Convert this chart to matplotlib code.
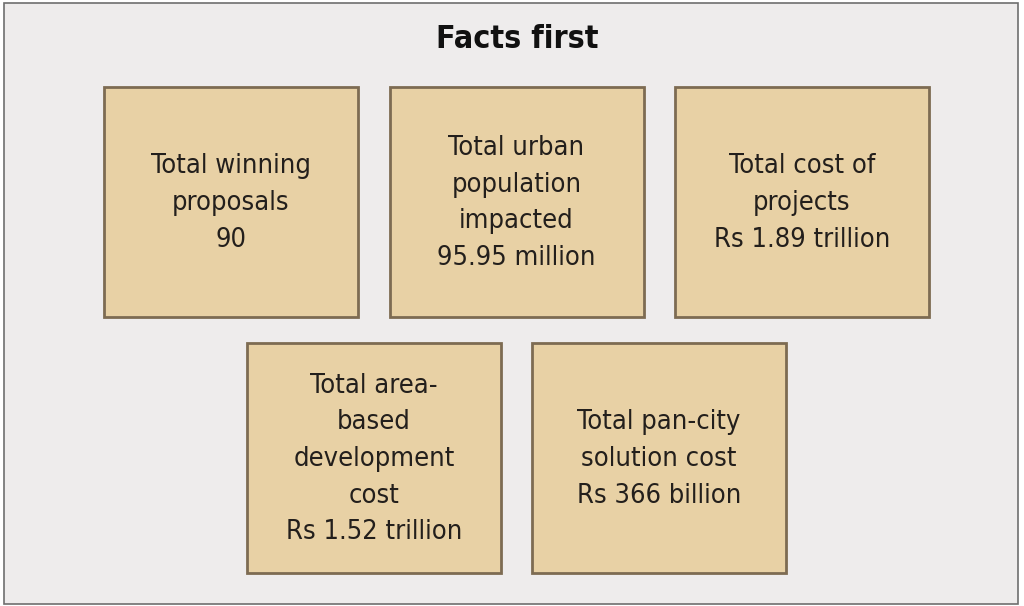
import matplotlib.pyplot as plt
from matplotlib.patches import Rectangle

# conteúdo do infográfico
titulo = "Facts first"
linha1 = [
    "Total winning\nproposals\n90",
    "Total urban\npopulation\nimpacted\n95.95 million",
    "Total cost of\nprojects\nRs 1.89 trillion",
]
linha2 = [
    "Total area-\nbased\ndevelopment\ncost\nRs 1.52 trillion",
    "Total pan-city\nsolution cost\nRs 366 billion",
]

fundo = "#eeecec"
caixa = "#e8d1a5"
borda = "#7d6b52"

fig = plt.figure(figsize=(10.24, 6.06), dpi=100)
ax = fig.add_axes([0, 0, 1, 1])
ax.set_xlim(0, 1024)
ax.set_ylim(606, 0)
ax.axis("off")

# moldura externa
ax.add_patch(Rectangle((4, 3), 1014, 601, facecolor=fundo, edgecolor="#6e6e6e", lw=1.2))

ax.text(517, 40, titulo, ha="center", va="center", fontsize=23, fontweight="heavy",
        fontstretch="condensed", family="DejaVu Sans", color="#111111")

larg, alt = 254, 230
fonte = dict(ha="center", va="center", fontsize=19.5, color="#231f1c",
             family="DejaVu Sans", fontstretch="condensed", linespacing=1.53)

for i, txt in enumerate(linha1):
    x0 = 104 + i * 285.5
    ax.add_patch(Rectangle((x0, 87), larg, alt, facecolor=caixa, edgecolor=borda, lw=2))
    ax.text(x0 + larg / 2, 87 + alt / 2 + 1, txt, **fonte)

for i, txt in enumerate(linha2):
    x0 = 247 + i * 285
    ax.add_patch(Rectangle((x0, 343), larg, alt, facecolor=caixa, edgecolor=borda, lw=2))
    ax.text(x0 + larg / 2, 343 + alt / 2 + 1, txt, **fonte)

fig.savefig("out.png", dpi=100, facecolor="white")
